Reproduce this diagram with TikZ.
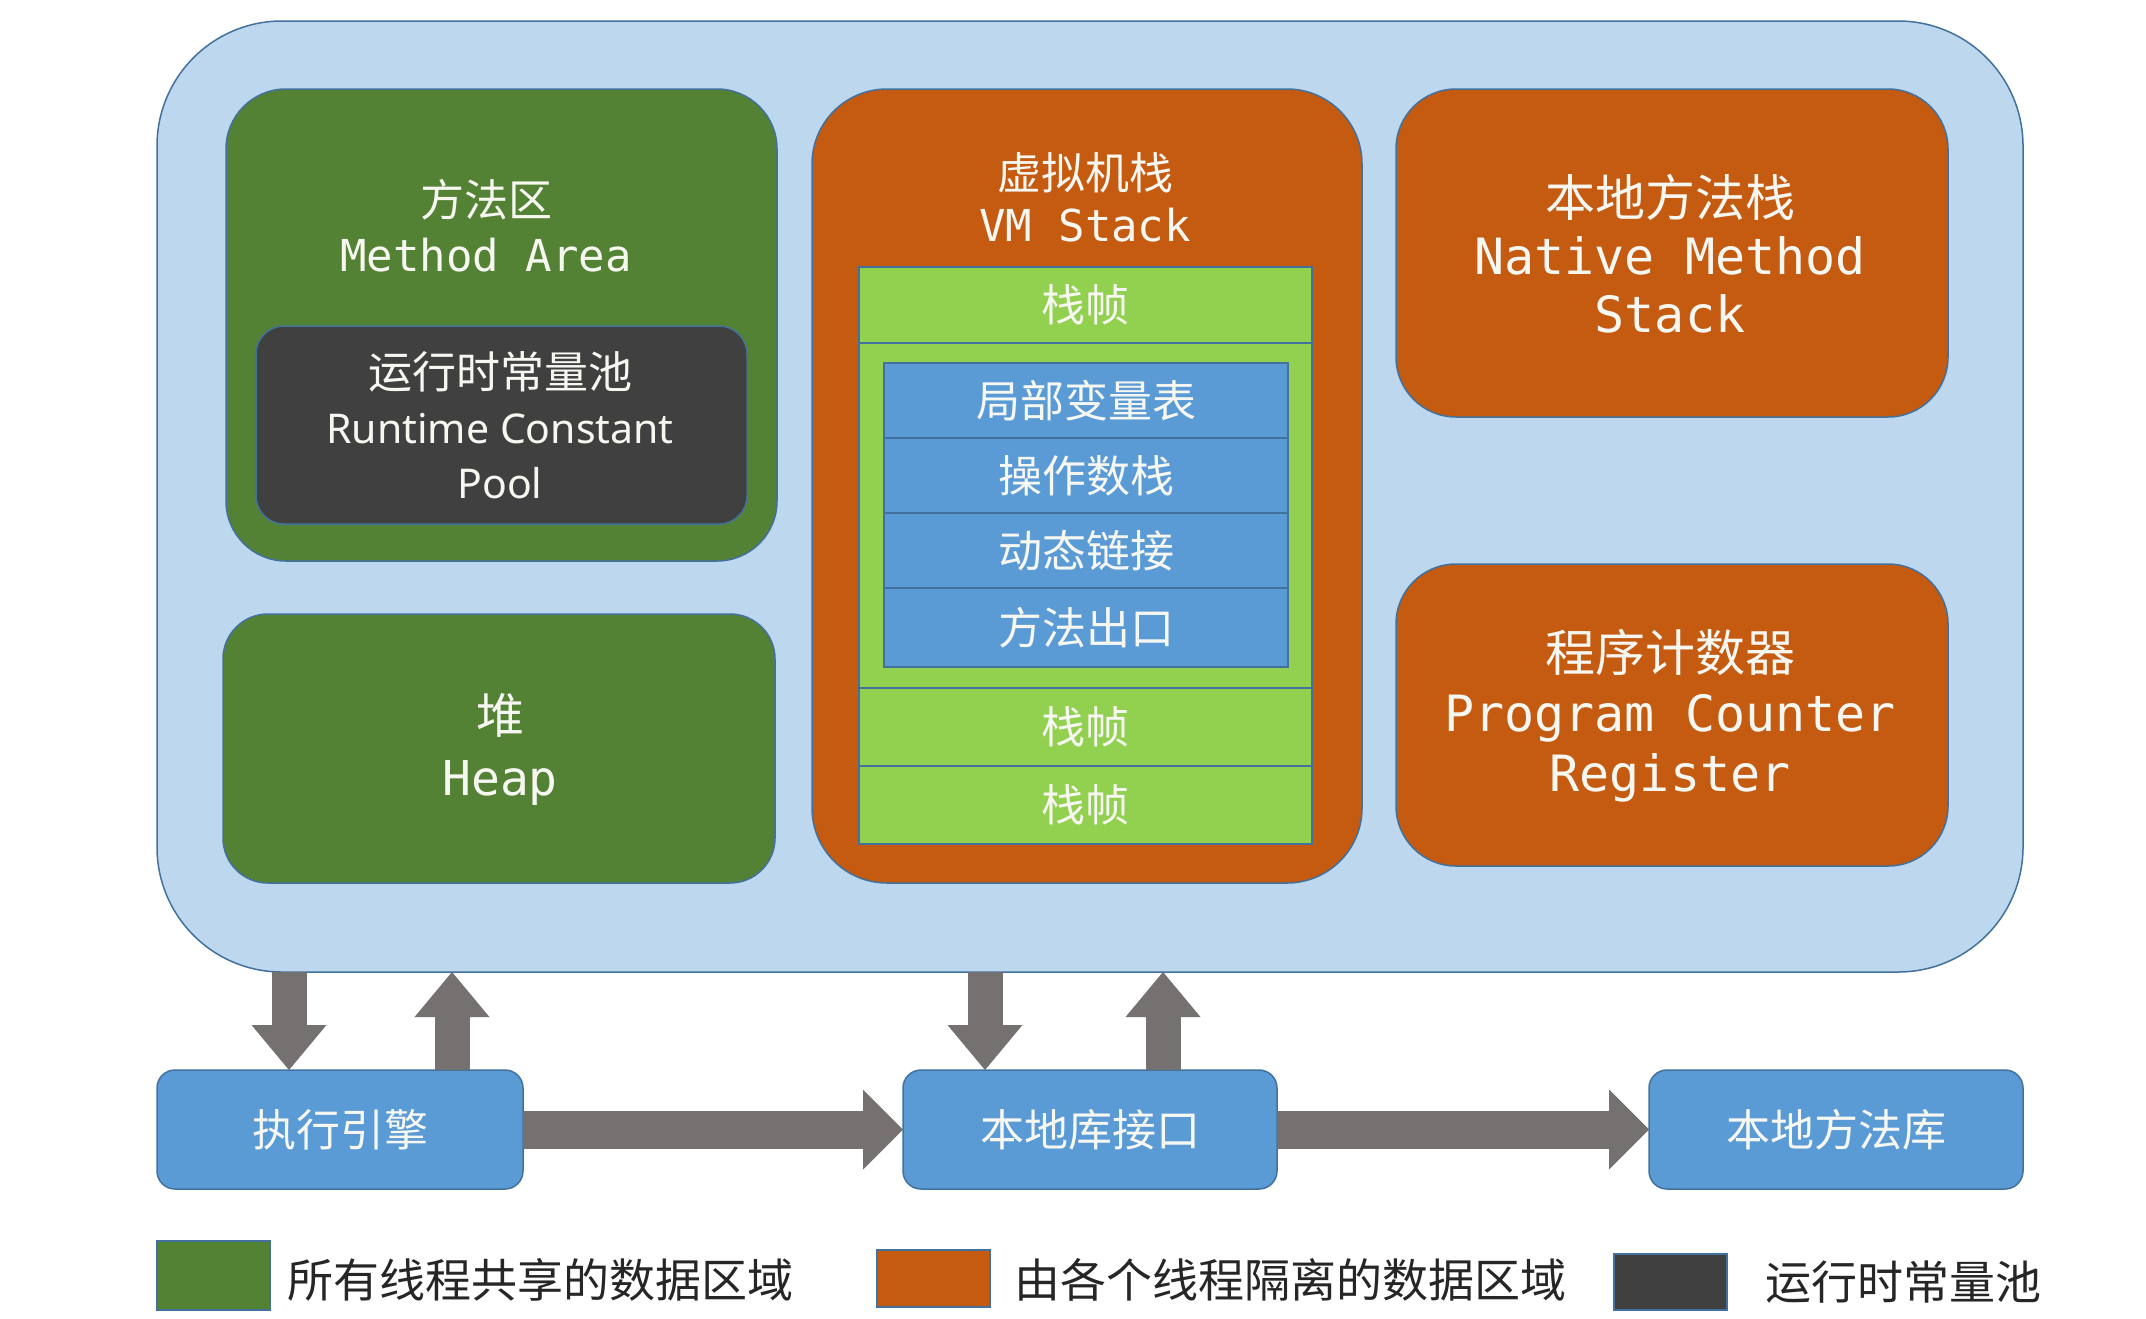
\documentclass[tikz,border=0pt]{standalone}
\usepackage{fontspec}
\setmainfont{Noto Sans}
\newfontfamily\cjk{Noto Sans CJK SC}
\newfontfamily\mono{DejaVu Sans Mono}
\usetikzlibrary{arrows.meta}
\definecolor{jvmblue}{HTML}{BDD7EE}
\definecolor{edgeblue}{HTML}{41719C}
\definecolor{shared}{HTML}{548235}
\definecolor{private}{HTML}{C55A11}
\definecolor{pooldark}{HTML}{404040}
\definecolor{framegreen}{HTML}{92D050}
\definecolor{slotblue}{HTML}{5B9BD5}
\definecolor{pipe}{HTML}{767171}
\definecolor{labelwhite}{HTML}{F7F7F2}
\newcommand{\fsz}[2]{\fontsize{#1}{#2}\selectfont}

\begin{document}
\begin{tikzpicture}[x=1pt,y=-1pt,
  area/.style={draw=edgeblue, line width=1.5pt, inner sep=0pt, outer sep=0pt},
  frame/.style={area, fill=framegreen, minimum width=453pt},
  slot/.style={area, fill=slotblue, minimum width=404pt, minimum height=75pt},
  module/.style={area, fill=slotblue, rounded corners=18pt, minimum height=119pt},
  swatch/.style={area, minimum width=113pt},
  lbl/.style={text=labelwhite, align=center, inner sep=0pt},
  legendtext/.style={text=black!85, anchor=west, inner sep=0pt, font=\cjk\fsz{46}{54}},
  vflow/.style={draw=pipe, line width=35pt, -{Triangle[length=45pt,width=75pt,line width=0pt]}},
  hflow/.style={draw=pipe, line width=38pt, -{Triangle[length=40pt,width=80pt,line width=0pt]}}]
\useasboundingbox (0,0) rectangle (2146,1318);

% runtime data area
\node[area, fill=jvmblue, rounded corners=125pt, minimum width=1866pt, minimum height=951pt] (jvm) at (1090,496.5) {};

% shared regions
\node[area, fill=shared, rounded corners=60pt, minimum width=551pt, minimum height=472pt] (method) at (501.5,325) {};
\node[area, fill=pooldark, rounded corners=28pt, minimum width=491pt, minimum height=198pt] (pool) at (501.5,425) {};
\node[area, fill=shared, rounded corners=45pt, minimum width=552pt, minimum height=269pt] (heap) at (499,748.5) {};

% per-thread regions
\node[area, fill=private, rounded corners=75pt, minimum width=550pt, minimum height=794pt] (vmstack) at (1087,486) {};
\node[area, fill=private, rounded corners=60pt, minimum width=552pt, minimum height=328pt] (native) at (1672,253) {};
\node[area, fill=private, rounded corners=60pt, minimum width=552pt, minimum height=302pt] (pc) at (1672,715) {};

% stack frames
\node[frame, minimum height=76pt] (f1) at (1085.5,305) {};
\node[frame, minimum height=345pt] (f2) at (1085.5,515.5) {};
\node[frame, minimum height=78pt] (f3) at (1085.5,727) {};
\node[frame, minimum height=78pt] (f4) at (1085.5,805) {};
\node[slot] (s1) at (1086,400.5) {};
\node[slot] (s2) at (1086,475.5) {};
\node[slot] (s3) at (1086,550.5) {};
\node[slot, minimum height=79pt] (s4) at (1086,627.5) {};

% labels inside the data area (each line picks its own face)
\node[lbl, font=\cjk\fsz{44}{55}] (tmethod) at (486,226) {方法区\\\mono Method Area};
\node[lbl, font=\cjk\fsz{44}{55}] (tpool) at (500,425) {运行时常量池\\\rmfamily\fsz{41}{54}Runtime Constant\\\rmfamily\fsz{41}{54}Pool};
\node[lbl, font=\cjk\fsz{48}{62}] (theap) at (500,749) {堆\\\mono Heap};
\node[lbl, font=\cjk\fsz{44}{52}] (tvm) at (1085,197) {虚拟机栈\\\mono VM Stack};
\node[lbl, font=\cjk\fsz{50}{58}] (tnative) at (1670,254) {本地方法栈\\\mono Native Method\\\mono Stack};
\node[lbl, font=\cjk\fsz{50}{60}] (tpc) at (1670,716) {程序计数器\\\mono Program Counter\\\mono Register};
\node[lbl, font=\cjk\fsz{44}{52}] (tf1) at (f1) {栈帧};
\node[lbl, font=\cjk\fsz{44}{52}] (ts1) at (s1) {局部变量表};
\node[lbl, font=\cjk\fsz{44}{52}] (ts2) at (s2) {操作数栈};
\node[lbl, font=\cjk\fsz{44}{52}] (ts3) at (s3) {动态链接};
\node[lbl, font=\cjk\fsz{44}{52}] (ts4) at (s4) {方法出口};
\node[lbl, font=\cjk\fsz{44}{52}] (tf3) at (f3) {栈帧};
\node[lbl, font=\cjk\fsz{44}{52}] (tf4) at (f4) {栈帧};

% execution side
\node[module, minimum width=366pt] (engine) at (340,1129.5) {};
\node[module, minimum width=374pt] (iface) at (1090,1129.5) {};
\node[module, minimum width=374pt] (nlib) at (1836,1129.5) {};
\node[lbl, font=\cjk\fsz{44}{52}] (tengine) at (engine) {执行引擎};
\node[lbl, font=\cjk\fsz{44}{52}] (tiface) at (iface) {本地库接口};
\node[lbl, font=\cjk\fsz{44}{52}] (tnlib) at (nlib) {本地方法库};

\coordinate (d1) at (289,0);
\coordinate (u1) at (452,0);
\coordinate (d2) at (985,0);
\coordinate (u2) at (1163,0);
\draw[vflow] (jvm.south -| d1) -- (engine.north -| d1);
\draw[vflow] (engine.north -| u1) -- (jvm.south -| u1);
\draw[vflow] (jvm.south -| d2) -- (iface.north -| d2);
\draw[vflow] (iface.north -| u2) -- (jvm.south -| u2);
\draw[hflow] (engine.east) -- (iface.west);
\draw[hflow] (iface.east) -- (nlib.west);

% legend
\node[swatch, fill=shared, minimum height=69pt] (kshared) at (213.5,1275.5) {};
\node[swatch, fill=private, minimum height=57pt] (kprivate) at (933.5,1278.5) {};
\node[swatch, fill=pooldark, minimum height=56pt] (kpool) at (1670.5,1282) {};
\node[legendtext] (lshared) at (287,1280) {所有线程共享的数据区域};
\node[legendtext] (lprivate) at (1014,1280) {由各个线程隔离的数据区域};
\node[legendtext] (lpool) at (1765,1282) {运行时常量池};
\end{tikzpicture}
\end{document}
